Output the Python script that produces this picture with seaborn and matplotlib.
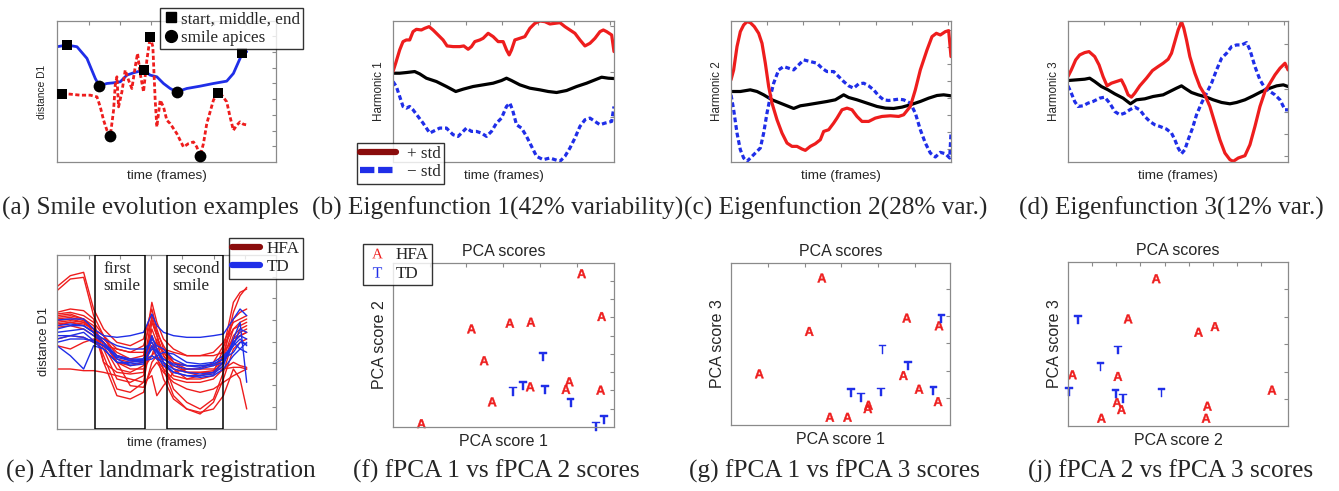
import numpy as np
import pandas as pd
import matplotlib
matplotlib.use("Agg")
import matplotlib.pyplot as plt
import matplotlib.transforms as mtransforms
from matplotlib.lines import Line2D
import seaborn as sns

# ---------------- DATA ----------------
# (a) smile evolution examples
a_blue_t = [0, 3, 6, 9, 11.5, 12.7, 15, 17, 19, 21, 23, 26, 28, 30, 32, 34, 36, 39, 43, 47, 51, 53, 55, 55.7, 57]
a_blue_d = [34.5, 35, 34.5, 31, 25, 22.8, 23.5, 23.7, 24, 26, 26.7, 27.5, 26, 25.5, 23.5, 22, 21, 22, 22.7, 23.5, 24.2, 26.5, 31, 32.7, 33]
a_red_t = [1.5, 4, 7, 10, 12, 13, 14, 15, 16, 17, 17.5, 18, 18.5, 19.5, 20.5, 21.5, 22.5, 23.5, 24.2, 25, 26, 27,
           28, 28.8, 29.5, 30, 31, 32, 33, 34, 36, 38, 39.5, 41, 42, 43, 44, 45, 47, 48.3, 49.5, 51, 52, 53, 54, 55, 56, 57.5]
a_red_d = [20.5, 20.3, 20, 20, 19.5, 16.5, 12.5, 9.5, 7.7, 15.5, 23, 25.5, 16.5, 21, 27.5, 24.5, 22, 28.5, 32.5, 26.5, 21, 30.5,
           37.5, 34.5, 18.5, 10.5, 18.5, 16.5, 12.5, 11.5, 8.5, 4.5, 5.5, 6, 4.5, 1.8, 5.5, 11.5, 18.5, 20.8, 20, 18, 13.5, 9.5, 11, 12, 11.3, 11]
landmark_t = [3, 26, 55.7, 1.5, 28, 48.3]
landmark_d = [35, 27.5, 32.7, 20.5, 37.5, 20.8]
apex_t = [12.7, 36, 16, 43]
apex_d = [22.8, 21, 7.7, 1.8]

# (b) eigenfunction 1
b_plus_t = [0, 0.8, 2, 3, 4, 5, 6, 7, 8.5, 9.5, 10.8, 12, 13.5, 15, 16.2, 18, 20, 21.2, 22.5, 23.5, 24.5, 26, 27, 28.5, 30, 31.5,
            33, 34, 34.8, 35.5, 36.5, 38, 39.5, 41, 42.5, 44, 45.5, 47, 48.5, 50, 51.5, 53, 54.5, 56, 57.5, 59, 60.5, 62, 63, 64, 65.5, 66.2]
b_plus_v = [27.2, 29.7, 33.7, 36.2, 36.7, 36.7, 39.2, 39.9, 39.7, 40.2, 40.7, 39.7, 38.2, 36.7, 34.9, 34.7, 34.7, 34.9, 33.9, 34.7,
            36.2, 36.7, 37.2, 38.7, 37.7, 36.2, 36.2, 33.7, 32.2, 33.7, 36.7, 37.2, 37.7, 40.2, 41.7, 42.4, 42.2, 41.5, 41.7, 41.9,
            40.7, 39.7, 38.7, 36.7, 34.9, 35.7, 37.2, 39.2, 39.7, 39.2, 38.2, 33.2]
b_mean_t = [0, 2, 4, 6.5, 8, 10, 13, 16, 18.8, 21, 24, 27, 30, 32.5, 34, 35.5, 38, 41, 44, 46.5, 49, 52, 55, 58, 60.5, 62.5, 64.5, 66.2]
b_mean_v = [26.7, 26.7, 26.9, 27.2, 26.5, 25.2, 24.2, 22.7, 21.2, 21.9, 22.7, 23.2, 23.7, 24.5, 25.2, 24.5, 23.2, 22.2, 21.7, 21.2,
            20.9, 21.5, 22.7, 23.7, 24.7, 25.5, 25.2, 25.1]
b_minus_t = [0, 1, 2, 3, 4, 5, 6, 7.5, 9, 11, 12, 14, 16, 18, 19.5, 21, 22, 23.5, 25, 26.5, 28, 29.5, 31, 32.5, 34, 35, 35.8, 37,
             38.5, 40, 41.5, 43, 45, 47, 48.5, 50, 51.5, 53, 54.5, 56, 57.5, 59, 60.5, 62, 63.5, 65.5, 66.2]
b_minus_v = [24.2, 22.7, 19.7, 16.7, 16.2, 16.7, 15.7, 13.7, 11.7, 8.7, 9.2, 10.2, 10.2, 8.2, 7.7, 9.2, 10.2, 9.2, 9.2, 8.7, 7.7,
             9.2, 11.7, 13.2, 16.7, 17.7, 15.7, 11.2, 10.2, 7.7, 4.7, 1.7, 0.7, 1.2, 0.7, 0.2, 1.7, 4.2, 7.2, 10.7, 12.7, 13.2,
             12.2, 11.2, 11.7, 12.2, 16.7]

# (c) eigenfunction 2
c_plus_t = [0, 0.8, 1.8, 2.8, 3.8, 4.8, 5.8, 7, 8.3, 9.3, 10.3, 11.3, 12.3, 13.8, 15.3, 16.8, 18.3, 19.8, 21.3, 22.3, 23.8, 25.3,
            26.8, 27.8, 29.3, 30.8, 31.8, 33.3, 34.8, 36.3, 37.8, 39.3, 41.3, 43.3, 45.3, 47.8, 50.3, 51.8, 53.8, 55.3, 56.8, 58.8,
            60.3, 61.6, 62.8, 64.3, 65.3, 66]
c_plus_v = [24.7, 27.7, 34.7, 39.2, 41.2, 42.2, 41.9, 40.7, 38.7, 35.7, 29.7, 22.7, 17.7, 12.7, 8.7, 5.7, 4.7, 4.7, 3.9, 3.5, 4.7,
            5.5, 6.7, 9.2, 9.7, 11.7, 13.2, 15.7, 16.2, 15.7, 13.7, 12.2, 12.2, 13.2, 13.7, 13.9, 13.7, 14.2, 16.7, 21.7, 27.7,
            33.7, 37.7, 38.7, 38.2, 39.2, 39.5, 31.7]
c_mean_t = [0, 2.8, 5.8, 7.8, 9.8, 12.3, 14.8, 17.3, 18.8, 20.8, 22.8, 25.8, 28.8, 31.3, 33.8, 35.3, 37.8, 40.8, 43.8, 46.3, 48.8,
            51.3, 53.8, 56.8, 59.3, 61.8, 63.8, 66]
c_mean_v = [21.2, 21.2, 21.7, 21.2, 20.2, 18.7, 17.7, 16.7, 16.1, 16.9, 17.2, 17.7, 18.2, 18.7, 20.2, 19.4, 18.7, 17.7, 16.7, 16.2,
            16.1, 16.5, 17.2, 18.2, 19.2, 20.0, 20.2, 19.9]
c_minus_t = [0, 0.8, 1.8, 2.8, 3.8, 4.8, 6.3, 7.8, 8.8, 9.8, 10.8, 11.8, 12.8, 14.3, 15.8, 17.3, 18.8, 20.3, 21.8, 23.8, 25.8, 27.3,
             28.8, 30.8, 32.3, 33.8, 35.3, 36.8, 38.3, 39.8, 41.3, 42.8, 44.3, 45.8, 47.3, 48.8, 50.3, 51.8, 53.8, 55.3, 56.8, 58.3,
             59.8, 61.3, 62.8, 64.3, 65.6, 66]
c_minus_v = [20.2, 15.7, 8.7, 3.7, 1.2, 0.2, 1.7, 3.2, 4.2, 8.7, 14.7, 19.7, 23.7, 27.7, 28.7, 28.2, 27.7, 29.2, 30.7, 30.2, 29.7,
             28.2, 27.2, 27.2, 25.7, 24.2, 22.9, 22.2, 23.5, 23.7, 22.9, 21.7, 19.9, 18.7, 18.5, 18.7, 18.9, 18.7, 17.7, 14.7, 9.7,
             5.7, 2.7, 1.5, 2.9, 2.5, 1.2, 8.7]

# (d) eigenfunction 3
d_plus_t = [0, 1, 2.3, 3.5, 5, 6.3, 8, 9.3, 10.5, 11.7, 13, 14.5, 16, 17, 18, 19, 20, 21.5, 23.5, 25.3, 27, 28.5, 30, 31, 32, 33,
            34, 34.7, 35.5, 36.5, 38, 39.5, 41, 42.5, 44, 45.5, 47, 48.5, 49.5, 51, 53, 54.5, 56, 57.5, 59, 60.5, 62, 63.5, 65, 65.9]
d_plus_v = [25.7, 27.7, 30.7, 32.2, 32.9, 33.2, 31.7, 29.2, 25.7, 22.9, 23.7, 24.2, 24.7, 22.7, 20.2, 19.5, 20.7, 22.9, 25.2, 27.5,
            28.7, 29.7, 30.9, 32.7, 36.2, 39.7, 42.2, 40.2, 36.7, 31.7, 26.7, 22.7, 20.2, 16.7, 11.7, 6.7, 2.7, 0.7, 0.2, 1.2, 1.9,
            5.2, 10.7, 16.7, 21.2, 23.7, 26.2, 28.2, 29.7, 27.7]
d_mean_t = [0, 2.5, 5, 6.5, 8, 10, 12, 14, 16.5, 18.7, 20.5, 23, 25.5, 28.5, 30.5, 32.5, 34, 35, 37, 39, 41.5, 43.5, 46, 48.5, 50.5,
            53, 55.5, 58, 60.5, 62.5, 64.5, 65.9]
d_mean_v = [24.5, 24.7, 24.9, 25.2, 24.2, 22.7, 21.7, 20.5, 19.2, 17.5, 18.7, 19.0, 19.7, 20.2, 21.2, 22.2, 22.9, 22.2, 20.9, 20.2,
            19.5, 18.7, 17.9, 17.5, 17.9, 18.7, 19.9, 21.2, 22.2, 22.9, 23.2, 22.7]
d_minus_t = [0, 1, 2, 3, 4.5, 6, 7.5, 9.5, 11, 12.5, 14, 15.5, 17, 18.5, 20, 21.5, 23, 24.5, 26, 27.5, 29.5, 31, 32, 33, 34, 35,
             36, 37.3, 38.5, 40, 41.5, 43, 44.5, 46, 47.5, 49, 50.5, 52, 53.5, 54.5, 56, 57.5, 59, 60.5, 62, 63.5, 65, 65.9]
d_minus_v = [22.9, 20.7, 18.2, 16.7, 16.9, 17.7, 18.2, 19.2, 19.5, 17.7, 15.2, 14.2, 14.7, 15.7, 16.5, 15.7, 13.7, 12.2, 11.2,
             10.7, 9.9, 8.7, 6.7, 4.2, 2.5, 3.7, 6.7, 10.2, 14.2, 17.7, 20.7, 23.7, 27.7, 31.2, 32.7, 34.7, 35.2, 35.2, 35.9,
             33.7, 28.7, 24.7, 22.2, 21.2, 20.2, 18.7, 15.7, 15.7]

# (e) registered curves
e_time = [0, 4, 8, 11, 14, 18, 22, 26, 28.5, 30, 32, 35, 39, 43, 47, 50, 53, 55, 57]
hfa_curves = [
    [42.7, 46, 47, 36, 30, 26, 25, 27, 36, 30, 24, 20, 17, 16, 17, 24, 38, 41, 42],
    [41.5, 45, 45.5, 34, 28, 24, 23, 25, 33, 28, 22, 18, 15, 15, 16, 22, 35, 40, 42.5],
    [34.5, 35, 34, 32, 28, 22, 21, 22, 38, 32, 27, 24, 22, 22, 23, 26, 32, 33, 34],
    [34, 34.5, 33, 31, 25, 18, 17, 19, 34, 29, 25, 20, 18, 18, 20, 25, 30, 31, 32],
    [33.5, 34, 33, 30, 24, 15, 14, 16, 30, 26, 20, 12, 8, 6, 9, 17, 27, 29, 30],
    [33, 33.5, 32.5, 29, 22, 12, 11, 14, 28, 24, 18, 10, 6, 4.5, 8, 15, 24, 26, 27],
    [32.5, 33, 32, 30, 26, 20, 19, 20, 25, 21, 18, 15, 14, 14, 15, 18, 20, 19, 18.5],
    [31.5, 32, 31, 29, 26, 21, 20, 21, 24, 26, 23, 19, 17, 17, 17, 20, 28, 30, 31],
    [30.5, 31, 30, 28, 27, 23, 21, 20, 22, 27, 23, 20, 19, 19, 19, 21, 30, 32, 33],
    [18, 18, 17.5, 17.5, 17, 16, 15, 14, 16, 10, 13, 17, 18, 18, 18, 18, 18.5, 18.5, 18],
    [31, 32, 31.5, 30, 20, 10, 9, 11, 20, 22, 15, 9, 6, 5, 6, 10, 18, 15, 6],
    [32, 32.5, 32, 30, 28, 20, 13, 12.5, 18, 20, 17, 14, 12, 11, 12, 14, 16, 17, 18],
    [27, 28, 27.5, 26, 25, 24, 23, 23, 26, 24, 24, 23, 22, 22, 22, 23, 27, 28, 29],
    [35, 36, 35.5, 33, 20, 17, 16.5, 17, 32, 28, 22, 18, 17, 17, 17.5, 22, 33, 35, 36],
    [25, 24, 26, 27, 26, 20, 18, 18, 22, 24, 20, 16, 15, 16, 17, 20, 26, 28, 29],
]
td_curves = [
    [32.7, 33, 33, 30, 28, 27.5, 28, 29, 34.5, 31, 29, 28, 27.5, 27.5, 28, 28.5, 33, 36, 34],
    [30, 31, 31, 29, 26, 22, 21, 21, 28, 24, 21, 19, 18, 18, 19, 20, 25, 30, 29],
    [26, 27, 27, 26.5, 25, 22, 20.5, 20.5, 22, 21, 20, 18, 17, 16.5, 17, 20, 26, 24, 26],
    [25, 22, 18, 25, 24, 20, 20, 20.5, 21, 22, 23, 22.5, 20, 19.5, 20, 22, 25, 27, 25],
    [27, 28, 27.5, 26, 24, 20, 19.5, 20, 24, 23.5, 20, 17, 16, 16, 16.5, 19, 27, 32, 14],
    [31, 31.5, 31, 29, 27, 25, 24, 24, 26, 23, 21, 19.5, 19, 19, 19.5, 21, 23, 26, 25.5],
    [29, 29.5, 30, 28, 26, 21, 19, 19.5, 25, 22, 19, 17, 16, 15.5, 16, 18, 22, 24, 23],
    [28, 28, 29, 26.5, 25, 21.5, 20.5, 21, 27, 25, 24, 21, 19, 18.5, 19.5, 21, 26, 28, 27],
]
first_smile = (11.3, 26.3)
second_smile = (33.2, 50.0)

# (f), (g), (j) fPCA scores per subject
score_group = ["HFA"] * 12 + ["TD"] * 7
score_pc1 = [8.5, 23.5, 27.3, 29.7, 35.0, 41.1, 41.3, 51.8, 52.8, 56.5, 62.2, 62.5,
             36.0, 39.0, 45.0, 45.5, 53.2, 60.8, 63.2]
score_pc2 = [1.0, 29.3, 19.8, 7.5, 31.0, 12.0, 31.3, 11.2, 13.5, 45.8, 11.0, 33.0,
             10.7, 12.4, 21.0, 11.2, 7.3, 0.2, 2.2]
score_pc3 = [15.3, 28.0, 44.0, 2.3, 2.3, 4.9, 5.9, 14.8, 32.0, 10.7, 7.0, 29.7,
             9.7, 8.3, 9.9, 22.7, 17.7, 10.3, 31.8]

captions = ["(a) Smile evolution examples", "(b) Eigenfunction 1(42% variability)",
            "(c) Eigenfunction 2(28% var.)", "(d) Eigenfunction 3(12% var.)",
            "(e) After landmark registration", "(f) fPCA 1 vs fPCA 2 scores",
            "(g) fPCA 1 vs fPCA 3 scores", "(j) fPCA 2 vs fPCA 3 scores"]

# ---------------- STYLE ----------------
sns.set_style("white")
plt.rcParams["font.family"] = ["Liberation Sans", "DejaVu Sans"]
plt.rcParams["mathtext.fontset"] = "custom"
plt.rcParams["mathtext.sf"] = "Liberation Sans:bold"
plt.rcParams["mathtext.rm"] = "Liberation Serif"

RED = "#ee1d1d"
BLUE = "#1f2ee8"
DARKRED = "#8a0c0c"
SERIF = ["Liberation Serif", "DejaVu Serif"]
W, H = 1339, 491

fig = plt.figure(figsize=(W / 100, H / 100), dpi=100)


def add_ax(x0, y0, x1, y1):
    return fig.add_axes([x0 / W, 1 - y1 / H, (x1 - x0) / W, (y1 - y0) / H])


def style(ax, xlim, ylim, xt, yt):
    ax.set_xlim(*xlim)
    ax.set_ylim(*ylim)
    ax.set_xticks(xt)
    ax.set_yticks(yt)
    ax.tick_params(direction="in", length=3, width=0.8, color="#8a8a8a", top=True, right=True,
                   labelbottom=False, labelleft=False)
    for s in ax.spines.values():
        s.set_color("#8a8a8a")
        s.set_linewidth(0.9)
    ax.set_xlabel("")
    ax.set_ylabel("")


def line(ax, t, v, color, ls="-", lw=2.2):
    sns.lineplot(x=t, y=v, ax=ax, color=color, linewidth=lw, linestyle=ls, sort=False, estimator=None)


DASH = (0, (1.5, 0.9))

# (a)
ax = add_ax(57, 21, 276, 162)
line(ax, a_blue_t, a_blue_d, BLUE, lw=2.0)
line(ax, a_red_t, a_red_d, RED, ls=DASH, lw=2.0)
sns.scatterplot(x=landmark_t, y=landmark_d, ax=ax, marker="s", color="black", s=52, linewidth=0, zorder=5)
sns.scatterplot(x=apex_t, y=apex_d, ax=ax, marker="o", color="black", s=72, linewidth=0, zorder=5)
style(ax, (0, 65.8), (0, 42.2), 9.5 + 9.4 * np.arange(6), 4.7 * np.arange(1, 9))
ax.set_xlabel("time (frames)", fontsize=9.7, labelpad=6)
ax.set_ylabel("distance D1", fontsize=7.4, labelpad=7)
h = [Line2D([], [], marker="s", color="black", ls="None", markersize=7.5),
     Line2D([], [], marker="o", color="black", ls="None", markersize=8.5)]
lg = ax.legend(h, ["start, middle, end", "smile apices"], loc="upper right",
               bbox_to_anchor=(303 / W, 1 - 8 / H), bbox_transform=fig.transFigure,
               prop={"family": SERIF, "size": 12.3}, frameon=True, fancybox=False, borderpad=0.2,
               labelspacing=0.15, handletextpad=0.1, handlelength=0.9, borderaxespad=0)
lg.get_frame().set_edgecolor("black")
lg.get_frame().set_linewidth(1.0)

# (b), (c), (d)
harm = [
    ((393, 21, 614, 162), b_plus_t, b_plus_v, b_mean_t, b_mean_v, b_minus_t, b_minus_v, "Harmonic 1",
     (0, 66.2), (0, 42.4), 11 + 10.8 * np.arange(6), [13.5, 27.2, 40.9]),
    ((731, 21, 951, 162), c_plus_t, c_plus_v, c_mean_t, c_mean_v, c_minus_t, c_minus_v, "Harmonic 2",
     (0, 66.0), (0, 42.4), 10.8 + 10.85 * np.arange(6), 3.9 + 5.1 * np.arange(8)),
    ((1068, 21, 1288, 162), d_plus_t, d_plus_v, d_mean_t, d_mean_v, d_minus_t, d_minus_v, "Harmonic 3",
     (0, 65.9), (0, 42.4), 10.7 + 10.8 * np.arange(6), 1.7 + 6.74 * np.arange(6)),
]
hax = []
for box, pt, pv, mt, mv, nt, nv, lab, xl, yl, xt, yt in harm:
    ax = add_ax(*box)
    line(ax, mt, mv, "black", lw=2.3)
    line(ax, nt, nv, BLUE, ls=DASH, lw=2.3)
    line(ax, pt, pv, RED, lw=2.3)
    style(ax, xl, yl, xt, yt)
    ax.set_xlabel("time (frames)", fontsize=9.7, labelpad=6)
    ax.set_ylabel(lab, fontsize=8.4, labelpad=6)
    hax.append(ax)
h = [Line2D([], [], color=DARKRED, lw=4.5),
     Line2D([], [], color=BLUE, lw=4.5, ls=(0, (2.3, 0.6)))]
lg = hax[0].legend(h, ["+ std", "\u2212 std"], loc="upper left",
                   bbox_to_anchor=(357 / W, 1 - 143 / H), bbox_transform=fig.transFigure,
                   prop={"family": SERIF, "size": 12.3}, frameon=True, fancybox=False, borderpad=0.2,
                   labelspacing=0.1, handletextpad=0.6, handlelength=2.1, borderaxespad=0)
lg.get_frame().set_edgecolor("black")
lg.get_frame().set_linewidth(1.0)

# (e)
rows = []
for grp, curves in (("HFA", hfa_curves), ("TD", td_curves)):
    for i, c in enumerate(curves):
        for t, v in zip(e_time, c):
            rows.append((grp, f"{grp}{i}", t, v))
df_e = pd.DataFrame(rows, columns=["group", "curve", "t", "d"])
ax = add_ax(57, 255, 276, 429)
sns.lineplot(data=df_e, x="t", y="d", hue="group", units="curve", estimator=None, sort=False,
             palette={"HFA": RED, "TD": BLUE}, linewidth=1.0, legend=False, ax=ax)
for s0, s1 in (first_smile, second_smile):
    ax.axvspan(s0, s1, fill=False, edgecolor="black", linewidth=1.1, zorder=4)
trans = mtransforms.blended_transform_factory(ax.transData, ax.transAxes)
ax.text(first_smile[0] + 2.6, 0.965, "first\nsmile", transform=trans, va="top", ha="left",
        family=SERIF, fontsize=12.3, linespacing=1.05)
ax.text(second_smile[0] + 1.4, 0.965, "second\nsmile", transform=trans, va="top", ha="left",
        family=SERIF, fontsize=12.3, linespacing=1.05)
style(ax, (0, 65.8), (0, 52.2), 9.5 + 9.4 * np.arange(6), 6.7 + 6.5 * np.arange(7))
ax.set_xlabel("time (frames)", fontsize=9.7, labelpad=6)
ax.set_ylabel("distance D1", fontsize=9.4, labelpad=5)
h = [Line2D([], [], color=DARKRED, lw=4.5), Line2D([], [], color=BLUE, lw=4.5)]
lg = ax.legend(h, ["HFA", "TD"], loc="upper right",
               bbox_to_anchor=(303 / W, 1 - 238 / H), bbox_transform=fig.transFigure,
               prop={"family": SERIF, "size": 12.3}, frameon=True, fancybox=False, borderpad=0.2,
               labelspacing=0.1, handletextpad=0.4, handlelength=1.6, borderaxespad=0)
lg.get_frame().set_edgecolor("black")
lg.get_frame().set_linewidth(1.0)

# (f), (g), (j)
scores = pd.DataFrame({"group": score_group, "pc1": score_pc1, "pc2": score_pc2, "pc3": score_pc3})
mk = {"HFA": "$\\mathsf{A}$", "TD": "$\\mathsf{T}$"}
pal = {"HFA": RED, "TD": BLUE}
sc = [
    ((393, 263, 614, 427), "pc1", "pc2", "PCA score 1", "PCA score 2", (0, 66.2), (0, 49.0),
     11 * np.arange(1, 6), 5.46 * np.arange(1, 9)),
    ((731, 263, 950, 425), "pc1", "pc3", "PCA score 1", "PCA score 3", (0, 65.8), (0, 48.5),
     11.05 * np.arange(1, 6), 8 + 8.2 * np.arange(5)),
    ((1068, 262, 1288, 426), "pc2", "pc3", "PCA score 2", "PCA score 3", (0, 49.4), (0, 49.0),
     5.42 * np.arange(1, 9), 8 + 8.2 * np.arange(5)),
]
sax = []
for box, xc, yc, xl, yl, xlim, ylim, xt, yt in sc:
    ax = add_ax(*box)
    sns.scatterplot(data=scores, x=xc, y=yc, hue="group", style="group", markers=mk, palette=pal,
                    s=40, edgecolor="face", linewidth=0.3, legend=False, ax=ax, clip_on=False)
    style(ax, xlim, ylim, xt, yt)
    ax.set_title("PCA scores", fontsize=11.5, pad=5)
    ax.set_xlabel(xl, fontsize=11.5, labelpad=5)
    ax.set_ylabel(yl, fontsize=11.5, labelpad=4)
    sax.append(ax)
h = [Line2D([], [], marker="$\\mathrm{A}$", color=RED, ls="None", markersize=7.5, markeredgewidth=0),
     Line2D([], [], marker="$\\mathrm{T}$", color=BLUE, ls="None", markersize=7.5, markeredgewidth=0)]
lg = sax[0].legend(h, ["HFA", "TD"], loc="upper left",
                   bbox_to_anchor=(363 / W, 1 - 244 / H), bbox_transform=fig.transFigure,
                   prop={"family": SERIF, "size": 12.3}, frameon=True, fancybox=False, borderpad=0.2,
                   labelspacing=0.15, handletextpad=0.5, handlelength=1.2, borderaxespad=0)
lg.get_frame().set_edgecolor("black")
lg.get_frame().set_linewidth(1.0)

# captions
cap_x = [150, 498, 836, 1171, 161, 496, 834, 1171]
cap_y = [208, 208, 208, 208, 471, 471, 471, 471]
for cx, cy, txt in zip(cap_x, cap_y, captions):
    fig.text(cx / W, 1 - cy / H, txt, ha="center", va="center", family=SERIF, fontsize=18.2)

fig.savefig("out.png", dpi=100)
